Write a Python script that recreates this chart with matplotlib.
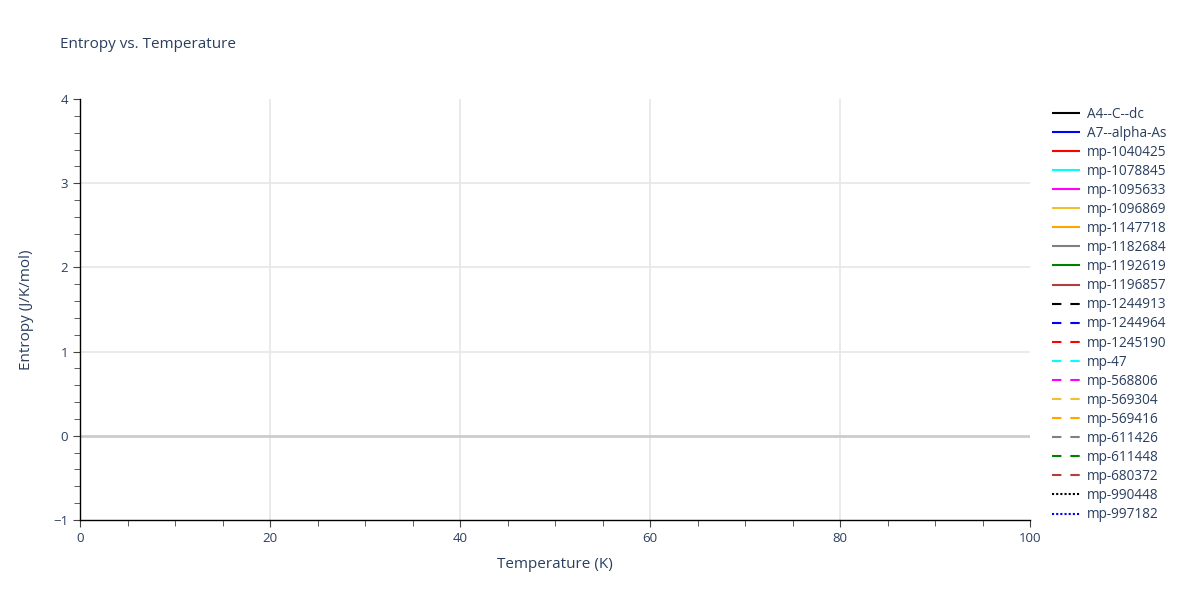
import matplotlib
matplotlib.use("Agg")
import matplotlib.pyplot as plt
from matplotlib.ticker import MultipleLocator

# Data: series names and styles (no visible data points in the plotted range)
series_names = ["A4--C--dc", "A7--alpha-As", "mp-1040425", "mp-1078845", "mp-1095633",
                "mp-1096869", "mp-1147718", "mp-1182684", "mp-1192619", "mp-1196857",
                "mp-1244913", "mp-1244964", "mp-1245190", "mp-47", "mp-568806",
                "mp-569304", "mp-569416", "mp-611426", "mp-611448", "mp-680372",
                "mp-990448", "mp-997182"]
series_colors = ["black", "blue", "red", "cyan", "magenta", "#f0c030", "orange", "gray",
                 "green", "#b04040",
                 "black", "blue", "red", "cyan", "magenta", "#f0c030", "orange", "gray",
                 "green", "#b04040",
                 "black", "blue"]
series_styles = ["solid"] * 10 + ["dash"] * 10 + ["dot"] * 2
temperatures = []  # K
entropies = [[] for _ in series_names]  # J/K/mol

x_range = [0, 100]
y_range = [-1, 4]
x_ticks = [0, 20, 40, 60, 80, 100]
y_ticks = [-1, 0, 1, 2, 3, 4]

plt.rcParams['font.family'] = ['Open Sans', 'DejaVu Sans']
text_color = "#2a3f5f"
fig = plt.figure(figsize=(12, 6), dpi=100)
ax = fig.add_axes([80 / 1200, 1 - 520 / 600, 950 / 1200, 421 / 600])

dash_map = {"solid": (0, ()), "dash": (0, (4.5, 4.3)), "dot": (0, (1, 1))}
for name, col, st, ys in zip(series_names, series_colors, series_styles, entropies):
    ax.plot(temperatures, ys, color=col, linestyle=dash_map[st], linewidth=1.5, label=name)

ax.set_xlim(*x_range)
ax.set_ylim(*y_range)
ax.set_xticks(x_ticks)
ax.set_yticks(y_ticks)
ax.xaxis.set_minor_locator(MultipleLocator(5))
ax.yaxis.set_minor_locator(MultipleLocator(0.2))

for xv in x_ticks[1:-1]:
    ax.axvline(xv, color="#e6e6e6", linewidth=1.2, zorder=0)
for yv in y_ticks[1:-1]:
    if yv != 0:
        ax.axhline(yv, color="#e6e6e6", linewidth=1.2, zorder=0)
ax.axhline(0, color="#cccccc", linewidth=2, zorder=1)
for s in ["top", "right"]:
    ax.spines[s].set_visible(False)
for s in ["left", "bottom"]:
    ax.spines[s].set_color("black")
    ax.spines[s].set_linewidth(1)
ax.tick_params(which="major", length=5, color="#444444", labelsize=9.5, labelcolor=text_color)
ax.tick_params(which="minor", length=4, color="#444444")

ax.set_xlabel("Temperature (K)", fontsize=11, color=text_color, labelpad=9)
ax.set_ylabel("Entropy (J/K/mol)", fontsize=11, color=text_color, labelpad=14)
fig.text(60 / 1200, 1 - 45 / 600, "Entropy vs. Temperature", fontsize=11,
         color=text_color, va="center", ha="left")

leg = ax.legend(loc="upper left", bbox_to_anchor=(1.013, 1.0 + 2 / 421), frameon=False,
                fontsize=9.8, labelcolor=text_color, handlelength=2.05, handletextpad=0.5,
                labelspacing=0.3, borderaxespad=0.3)

fig.savefig("out.png", dpi=100)
